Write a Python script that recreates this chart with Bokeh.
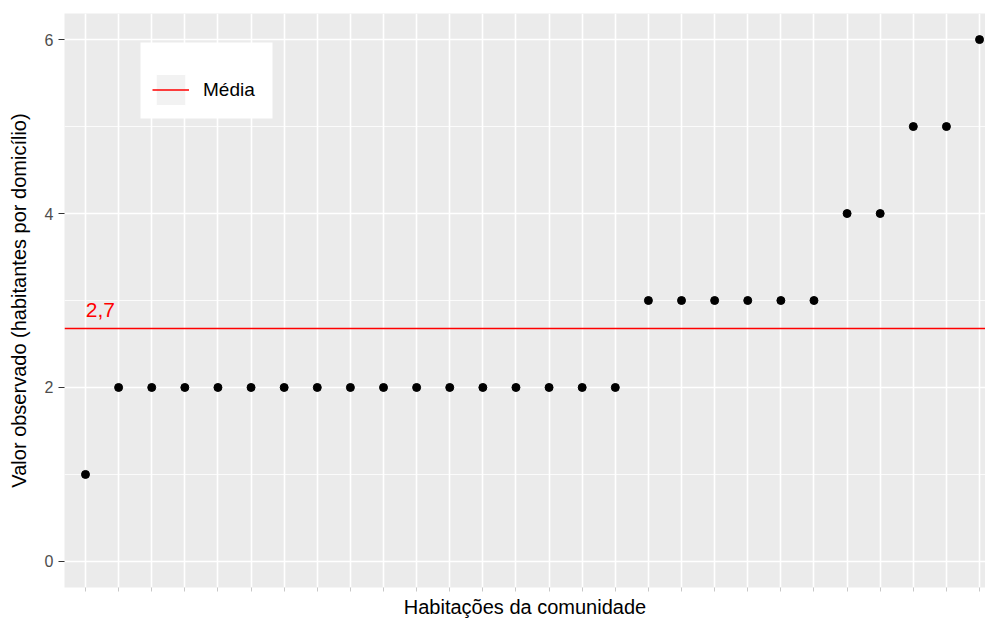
from bokeh.plotting import figure
from bokeh.models import (Range1d, FixedTicker, Span, Legend, LegendItem,
                          ColumnDataSource, CustomJSTickFormatter, BoxAnnotation)
from bokeh.core.properties import value
from bokeh.embed import file_html
from bokeh.resources import INLINE
import numpy as np

# --- data ---------------------------------------------------------------
habitantes = [1, 2, 2, 2, 2, 2, 2, 2, 2, 2, 2, 2, 2, 2, 2, 2, 2,
              3, 3, 3, 3, 3, 3, 4, 4, 5, 5, 6]
casas = list(range(1, len(habitantes) + 1))
y_breaks = [0, 2, 4, 6]
y_minor = [1, 3, 5]
x_title = "Habitações da comunidade"
y_title = "Valor observado (habitantes por domicílio)"
legend_label = "Média"

media = float(np.mean(habitantes))
media_txt = f"{media:.1f}".replace(".", ",")

FONT = "Liberation Sans"

p = figure(width=985, height=620, output_backend="svg", toolbar_location=None,
           x_range=Range1d(0.366, 28.18), y_range=Range1d(-0.3, 6.3),
           min_border_left=64, min_border_right=0, min_border_top=13,
           min_border_bottom=30)

p.background_fill_color = "#EBEBEB"
p.border_fill_color = "white"
p.outline_line_color = None

# grids
p.xgrid.ticker = FixedTicker(ticks=casas)
p.xgrid.grid_line_color = "white"
p.xgrid.grid_line_width = 1.6
p.ygrid.ticker = FixedTicker(ticks=y_breaks, minor_ticks=y_minor)
p.ygrid.grid_line_color = "white"
p.ygrid.grid_line_width = 1.6
p.ygrid.minor_grid_line_color = "white"
p.ygrid.minor_grid_line_width = 0.8

# axes
xa = p.xaxis[0]
xa.ticker = FixedTicker(ticks=casas)
xa.formatter = CustomJSTickFormatter(code="return ''")
xa.major_label_text_font_size = "1px"
xa.axis_line_color = None
xa.major_tick_line_color = "#C8C8C8"
xa.major_tick_out = 4
xa.major_tick_in = 0
xa.minor_tick_line_color = None
xa.axis_label = x_title
xa.axis_label_text_font = FONT
xa.axis_label_text_font_size = "20px"
xa.axis_label_text_font_style = "normal"
xa.axis_label_text_color = "black"
xa.axis_label_standoff = 4

ya = p.yaxis[0]
ya.ticker = FixedTicker(ticks=y_breaks)
ya.axis_line_color = None
ya.major_tick_line_color = "#333333"
ya.major_tick_out = 6
ya.major_tick_in = 0
ya.minor_tick_line_color = None
ya.major_label_text_font = FONT
ya.major_label_text_font_size = "16px"
ya.major_label_text_color = "#4D4D4D"
ya.major_label_standoff = 5
ya.axis_label = y_title
ya.axis_label_text_font = FONT
ya.axis_label_text_font_size = "20px"
ya.axis_label_text_font_style = "normal"
ya.axis_label_text_color = "black"
ya.axis_label_standoff = 12

# mean line
p.add_layout(Span(location=media, dimension="width", line_color="red",
                  line_width=1.6))

# points
src = ColumnDataSource(dict(x=casas, y=habitantes))
p.scatter("x", "y", source=src, size=8, color="black")

# mean label
p.text(x=[1.45], y=[media], text=[media_txt], text_color="red",
       text_font=value(FONT), text_font_size="21px", text_align="center",
       text_baseline="bottom", y_offset=-11)

# legend background box (screen units, relative to the plot frame)
p.add_layout(BoxAnnotation(left=76, right=208, bottom=469, top=545,
                           left_units="screen", right_units="screen",
                           top_units="screen", bottom_units="screen",
                           fill_color="white", fill_alpha=1.0,
                           line_color=None, level="overlay"))

# legend (renderers with NaN data, only used to draw the key)
key_bg = p.quad(left=[np.nan], right=[np.nan], top=[np.nan], bottom=[np.nan],
                fill_color="#F2F2F2", line_color="white")
key_line = p.line(x=[np.nan], y=[np.nan], line_color="red", line_width=1.6)
leg = Legend(items=[LegendItem(label=legend_label, renderers=[key_bg, key_line])],
             location=(88, 478), orientation="vertical",
             background_fill_alpha=0.0,
             border_line_color=None, padding=0, margin=0,
             glyph_width=37, glyph_height=39, label_height=39,
             label_standoff=14,
             label_text_font=FONT, label_text_font_size="19px",
             label_text_color="black")
p.add_layout(leg, "center")

open("out.html", "w").write(file_html(p, INLINE))
